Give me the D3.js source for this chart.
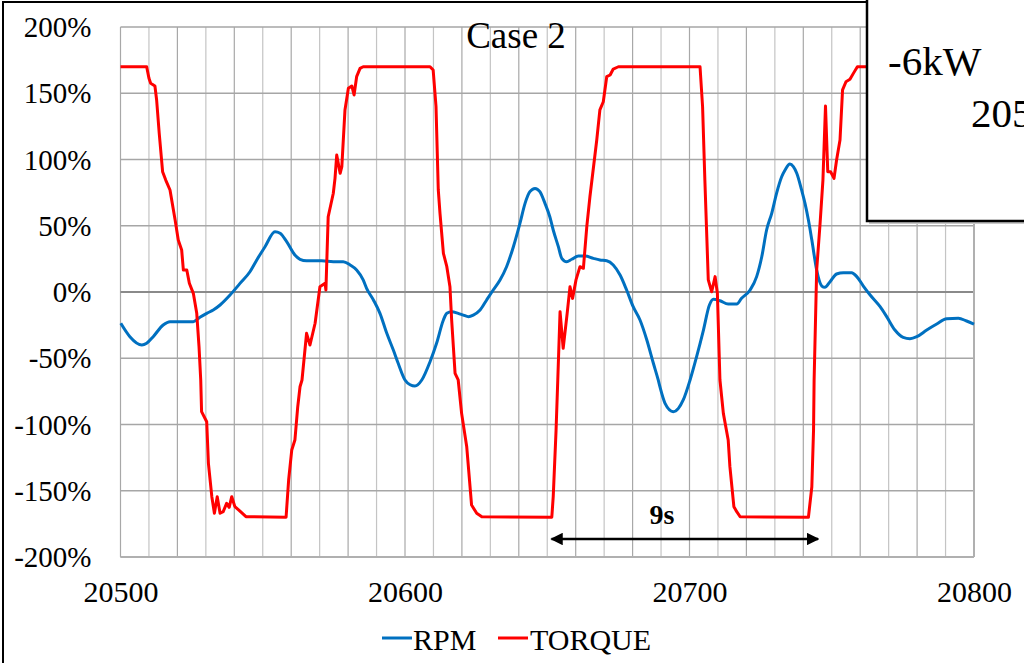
<!DOCTYPE html>
<html>
<head>
<meta charset="utf-8">
<script src="https://cdn.jsdelivr.net/npm/d3@7"></script>
<style>
html,body{margin:0;padding:0;background:#fff;overflow:hidden;}
svg text{font-family:"Liberation Serif","Times New Roman",serif !important;fill:#000;}
</style>
</head>
<body>
<svg id="chart" width="1024" height="663"></svg>
<script>
// ---- data ----
const title = "Case 2";
const xTicks = [20500, 20600, 20700, 20800];
const yTicks = [-200, -150, -100, -50, 0, 50, 100, 150, 200];
const seriesNames = ["RPM", "TORQUE"];

const rpmX = [20500.1,20503.3,20507.5,20509.2,20511.5,20515.0,20517.4,20525.6,20527.9,20530.3,20532.6,20535.0,20538.5,20542.0,20545.5,20547.9,20550.8,20554.3,20556.1,20558.4,20561.3,20563.1,20565.4,20570.7,20574.8,20578.3,20580.7,20583.0,20585.3,20586.5,20588.9,20591.2,20593.6,20595.9,20597.6,20600.0,20601.8,20603.5,20605.9,20608.8,20611.1,20613.5,20614.7,20616.4,20618.7,20620.5,20622.3,20624.0,20626.4,20628.7,20631.0,20633.4,20635.7,20638.1,20640.4,20642.2,20643.9,20645.7,20647.4,20649.2,20650.9,20652.1,20653.9,20655.1,20656.8,20658.6,20660.9,20663.3,20666.2,20668.5,20670.9,20673.2,20675.6,20677.9,20680.2,20682.6,20685.0,20687.3,20689.0,20689.6,20691.4,20694.3,20696.1,20697.8,20700.2,20702.5,20704.9,20707.0,20708.4,20710.7,20713.6,20716.6,20718.3,20721.3,20723.6,20725.4,20727.1,20728.9,20730.6,20732.4,20733.6,20735.3,20736.5,20737.7,20739.4,20740.6,20741.8,20743.0,20744.7,20746.5,20747.6,20749.4,20751.7,20754.1,20757.0,20758.8,20761.1,20763.5,20767.0,20769.3,20772.2,20775.1,20777.5,20779.9,20783.4,20786.9,20790.4,20794.5,20797.4,20800.0];
const rpmY = [-23.6,-33.7,-40,-38.7,-33.7,-24.9,-22.4,-22.4,-19.1,-16.1,-13.6,-9.8,-2.3,6.5,15.3,24.2,34.2,45.5,44.3,38,27.9,24.7,23.6,23.6,22.9,22.9,20.4,16.6,9.1,2.8,-6.0,-16.1,-31.2,-43.8,-53.8,-66.4,-70,-71,-66.4,-52.6,-38.7,-21.1,-16.1,-14.9,-16.1,-17.4,-18.6,-17.4,-13.6,-6.0,1.5,9.1,19.1,34.2,51.8,66.9,75.7,78.2,75.7,66.9,56.8,46.8,34.2,25.4,22.9,24.7,27.2,27.2,25.4,24.2,23.6,20.4,12.8,1.5,-11.1,-21.1,-36.2,-53.8,-66.4,-71.5,-84,-90.3,-87.8,-81.5,-66.4,-48.8,-28.7,-9.8,-5.5,-6.6,-9.1,-9.1,-4.8,1.5,11.6,26.6,46.8,59.4,74.5,87.0,92.1,96.6,94.6,89.6,77.0,66.9,54.3,39.2,16.6,4.5,3.5,7.8,13.6,14.6,14.6,11.6,4.5,-2.3,-11.1,-18.6,-28.7,-34.2,-35.2,-33.7,-28.7,-24.2,-20.2,-19.8,-21.9,-24.2];

const torqueX = [20500,20509.2,20510.0,20510.6,20512.1,20512.7,20513.6,20514.8,20515.9,20517.4,20519.2,20520.3,20521.5,20522.1,20523.3,20524.2,20525.6,20526.8,20527.6,20528.2,20528.5,20530.3,20530.9,20532.1,20533.0,20534.0,20535.0,20536.1,20537.3,20538.2,20539.1,20540.2,20541.8,20544.1,20558.2,20559.1,20560.2,20561.3,20562.3,20563.1,20563.8,20565.4,20566.6,20568.4,20570.1,20571.9,20572.2,20573.0,20574.8,20575.4,20576.0,20577.2,20577.8,20578.9,20580.1,20581.3,20582.1,20583.0,20584.2,20585.3,20608.8,20609.9,20610.9,20611.7,20612.3,20613.5,20614.7,20615.8,20616.4,20617.6,20618.7,20619.9,20621.7,20623.4,20625.2,20627.0,20651.6,20652.1,20653.1,20653.7,20654.5,20655.6,20657.0,20658.0,20658.9,20660.1,20661.5,20662.7,20663.9,20665.0,20667.4,20668.5,20669.7,20670.9,20672.1,20673.2,20675.0,20703.7,20704.6,20705.4,20706.0,20706.6,20707.8,20709.0,20709.8,20710.7,20711.9,20713.6,20714.2,20715.6,20716.6,20717.8,20741.8,20743.0,20743.6,20743.8,20744.7,20745.9,20746.9,20747.8,20748.6,20749.6,20750.8,20751.7,20752.9,20753.8,20755.0,20756.4,20757.6,20759.0,20800];
const torqueY = [170,170,161.3,157.5,155.5,144.9,120,90.8,84.5,77.0,54.3,39.2,31.7,16.6,16.6,6.6,-1.0,-16.1,-41.3,-66.4,-90.3,-97.9,-129.3,-154.5,-167,-154.5,-167,-165.8,-159.5,-162.5,-154.5,-162,-165,-169.6,-170,-141.9,-119.2,-111.7,-86.6,-71.5,-66.4,-31.2,-40,-23.6,4.0,6.6,1.5,56.8,74.5,85.8,103.4,89.6,94.6,137.4,153.7,155.5,148.7,162.5,168.8,170,170,167.5,140,77,59.4,29.2,19.1,4.0,-21.1,-61.4,-66.4,-91.6,-116.8,-160.8,-167,-169.6,-170,-154.5,-104.2,-66.4,-14.9,-42.5,-16.1,4.0,-4.8,9.1,19.1,17.9,49.3,71.9,114.7,137.4,143.6,162.5,163.8,168.3,170,170,139.8,84.5,46.8,9.1,0.2,11.6,-1.0,-66.4,-91.6,-111.7,-131.8,-162,-165.8,-169.6,-170,-147,-104.2,-66.4,16.6,51.8,84.5,140.4,90.8,90.8,85.8,99.6,114.7,152.5,158.7,160.5,165,170,170];

// ---- drawing ----
const svg = d3.select("#chart");
const L = 120.5, R = 974, T = 27, B = 557;
const x = d3.scaleLinear().domain([20500, 20800]).range([L, R]);
const y = d3.scaleLinear().domain([-200, 200]).range([B, T]);
const SERIF = '"Liberation Serif","Times New Roman",serif';

// outer frame
svg.append("rect").attr("x", 3).attr("y", 2).attr("width", 1200).attr("height", 800)
  .attr("fill", "#fff").attr("stroke", "#000").attr("stroke-width", 2);

// vertical grid
const vGrid = d3.range(20500, 20801, 10);
svg.append("g").selectAll("line").data(vGrid).join("line")
  .attr("x1", d => x(d)).attr("x2", d => x(d)).attr("y1", T).attr("y2", B)
  .attr("stroke", (d, i) => i % 2 ? "#c4c4c4" : "#a8a8a8").attr("stroke-width", 1.2);
// horizontal grid
svg.append("g").selectAll("line").data(yTicks).join("line")
  .attr("x1", L).attr("x2", R).attr("y1", d => y(d)).attr("y2", d => y(d))
  .attr("stroke", d => d === 0 ? "#8a8a8a" : "#a6a6a6")
  .attr("stroke-width", d => d === 0 ? 2 : 1.4);
// plot border right/bottom
svg.append("line").attr("x1", R).attr("x2", R).attr("y1", T).attr("y2", B).attr("stroke", "#b0b0b0").attr("stroke-width", 2);
svg.append("line").attr("x1", L).attr("x2", R).attr("y1", B).attr("y2", B).attr("stroke", "#b0b0b0").attr("stroke-width", 2);

// y axis labels
const yAxis = d3.axisLeft(y).tickValues(yTicks).tickFormat(d => d + "%").tickSize(0).tickPadding(29);
const ya = svg.append("g").attr("transform", `translate(${L},0)`).call(yAxis);
ya.attr("font-family", null).attr("font-size", null);
ya.select(".domain").remove();
ya.selectAll("text").style("font-size", "29px").style("font-family", SERIF).attr("fill", "#000").attr("dy", "0.33em");

// x axis labels
const xAxis = d3.axisBottom(x).tickValues(xTicks).tickFormat(d3.format("d")).tickSize(0).tickPadding(24);
const xa = svg.append("g").attr("transform", `translate(0,${B})`).call(xAxis);
xa.attr("font-family", null).attr("font-size", null);
xa.select(".domain").remove();
xa.selectAll("text").style("font-size", "30px").style("font-family", SERIF).attr("fill", "#000").attr("dy", "0.71em");

// lines
const rpm = rpmX.map((v, i) => [v, rpmY[i]]);
const torque = torqueX.map((v, i) => [v, torqueY[i]]);
svg.append("path").datum(rpm).attr("d", d3.line().x(d => x(d[0])).y(d => y(d[1])).curve(d3.curveMonotoneX))
  .attr("fill", "none").attr("stroke", "#0070C0").attr("stroke-width", 3).attr("stroke-linejoin", "round");
svg.append("path").datum(torque).attr("d", d3.line().x(d => x(d[0])).y(d => y(d[1])))
  .attr("fill", "none").attr("stroke", "#FF0000").attr("stroke-width", 3).attr("stroke-linejoin", "round");

// title
svg.append("text").attr("x", 516).attr("y", 48).attr("text-anchor", "middle")
  .style("font-size", "37px").text(title);

// 9s annotation arrow
const defs = svg.append("defs");
defs.append("marker").attr("id", "ah").attr("viewBox", "0 0 10 10").attr("refX", 9).attr("refY", 5)
  .attr("markerWidth", 5).attr("markerHeight", 5).attr("orient", "auto-start-reverse")
  .append("path").attr("d", "M0,0 L10,5 L0,10 z").attr("fill", "#000");
svg.append("line").attr("x1", x(20651.5)).attr("x2", x(20745.2)).attr("y1", 539).attr("y2", 539)
  .attr("stroke", "#000").attr("stroke-width", 2.5)
  .attr("marker-start", "url(#ah)").attr("marker-end", "url(#ah)");
svg.append("text").attr("x", 662).attr("y", 524).attr("text-anchor", "middle")
  .style("font-size", "28px").style("font-weight", "bold").text("9s");

// legend
const lg = svg.append("g");
const legendItems = [{name: seriesNames[0], color: "#0070C0", x0: 382, tx: 413},
                     {name: seriesNames[1], color: "#FF0000", x0: 498, tx: 530}];
legendItems.forEach(it => {
  lg.append("line").attr("x1", it.x0).attr("x2", it.x0 + 30).attr("y1", 638).attr("y2", 638)
    .attr("stroke", it.color).attr("stroke-width", 3);
  lg.append("text").attr("x", it.tx).attr("y", 650).style("font-size", "30px").text(it.name);
});

// inset text box (partially off-canvas, as in the reference)
svg.append("line").attr("x1", 869).attr("x2", 1024).attr("y1", 223).attr("y2", 223)
  .attr("stroke", "#c8c8c8").attr("stroke-width", 2);
svg.append("rect").attr("x", 867).attr("y", -10).attr("width", 400).attr("height", 231)
  .attr("fill", "#fff").attr("stroke", "#000").attr("stroke-width", 2.5);
svg.append("text").attr("x", 888).attr("y", 75).style("font-size", "41px").text("-6kW");
svg.append("text").attr("x", 971).attr("y", 127).style("font-size", "41px").text("205");
</script>
</body>
</html>
